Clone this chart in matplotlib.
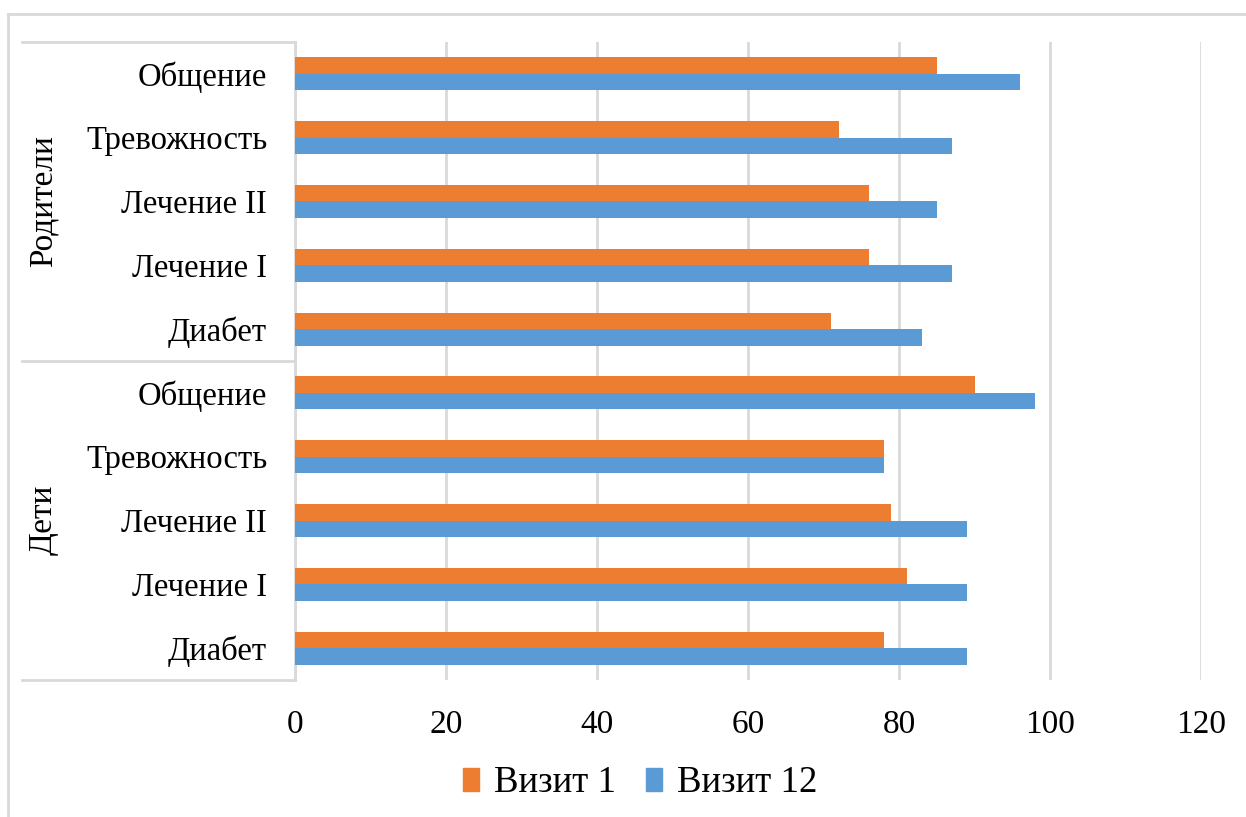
import numpy as np
import matplotlib.pyplot as plt
from matplotlib.lines import Line2D
from matplotlib.patches import Patch

plt.rcParams['font.family'] = ['Liberation Serif', 'DejaVu Serif']

# categories from bottom to top (Дети first, then Родители)
groups = ['Дети', 'Родители']
categories = ['Диабет', 'Лечение I', 'Лечение II', 'Тревожность', 'Общение']
visit1_kids = [78, 81, 79, 78, 90]
visit12_kids = [89, 89, 89, 78, 98]
visit1_parents = [71, 76, 76, 72, 85]
visit12_parents = [83, 87, 85, 87, 96]
x_ticks = [0, 20, 40, 60, 80, 100, 120]

orange = '#ED7D31'
blue = '#5B9BD5'
grid_c = '#D9D9D9'

labels = categories * 2
v1 = visit1_kids + visit1_parents
v12 = visit12_kids + visit12_parents
y = np.arange(len(labels))
h = 0.26

fig = plt.figure(figsize=(12.46, 8.17), dpi=100)
ax = fig.add_axes([295/1246, 1-680/817, (1201-295)/1246, (680-42)/817])

ax.barh(y + h/2, v1, height=h, color=orange, label='Визит 1', zorder=3)
ax.barh(y - h/2, v12, height=h, color=blue, label='Визит 12', zorder=3)

ax.set_xlim(0, 120)
ax.set_ylim(-0.5, len(labels) - 0.5)
ax.set_xticks(x_ticks)
ax.set_xticklabels([str(t) for t in x_ticks])
ax.set_yticks(y)
ax.set_yticklabels(labels)
ax.tick_params(axis='x', length=0, pad=21, labelsize=24)
ax.tick_params(axis='y', length=0, pad=20, labelsize=23.5)
ax.xaxis.grid(True, color=grid_c, linewidth=2, zorder=0)
for s in ['top', 'right', 'bottom']:
    ax.spines[s].set_visible(False)
ax.spines['left'].set_color(grid_c)
ax.spines['left'].set_linewidth(2)

# group separators on the category axis
x0 = 22 / 1246
x1 = 295 / 1246
for yy in [42, 361, 680]:
    fy = 1 - yy / 817
    fig.add_artist(Line2D([x0, x1], [fy, fy], color=grid_c, linewidth=2))

fig.text(43/1246, 1 - 520/817, groups[0], rotation=90, fontsize=24,
         ha='center', va='center')
fig.text(43/1246, 1 - 201/817, groups[1], rotation=90, fontsize=24,
         ha='center', va='center')

# chart area border
fig.add_artist(Line2D([8/1246, 8/1246], [0, 1 - 14/817], color=grid_c, linewidth=2))
fig.add_artist(Line2D([8/1246, 1], [1 - 14/817, 1 - 14/817], color=grid_c, linewidth=2))

handles = [Patch(color=orange), Patch(color=blue)]
fig.legend(handles, ['Визит 1', 'Визит 12'], loc='center',
           bbox_to_anchor=(640/1246, 1 - 783/817), ncol=2, frameon=False,
           fontsize=26.5, handlelength=0.45, handleheight=0.6,
           handletextpad=0.4, columnspacing=0.8)

fig.savefig('out.png', dpi=100)
